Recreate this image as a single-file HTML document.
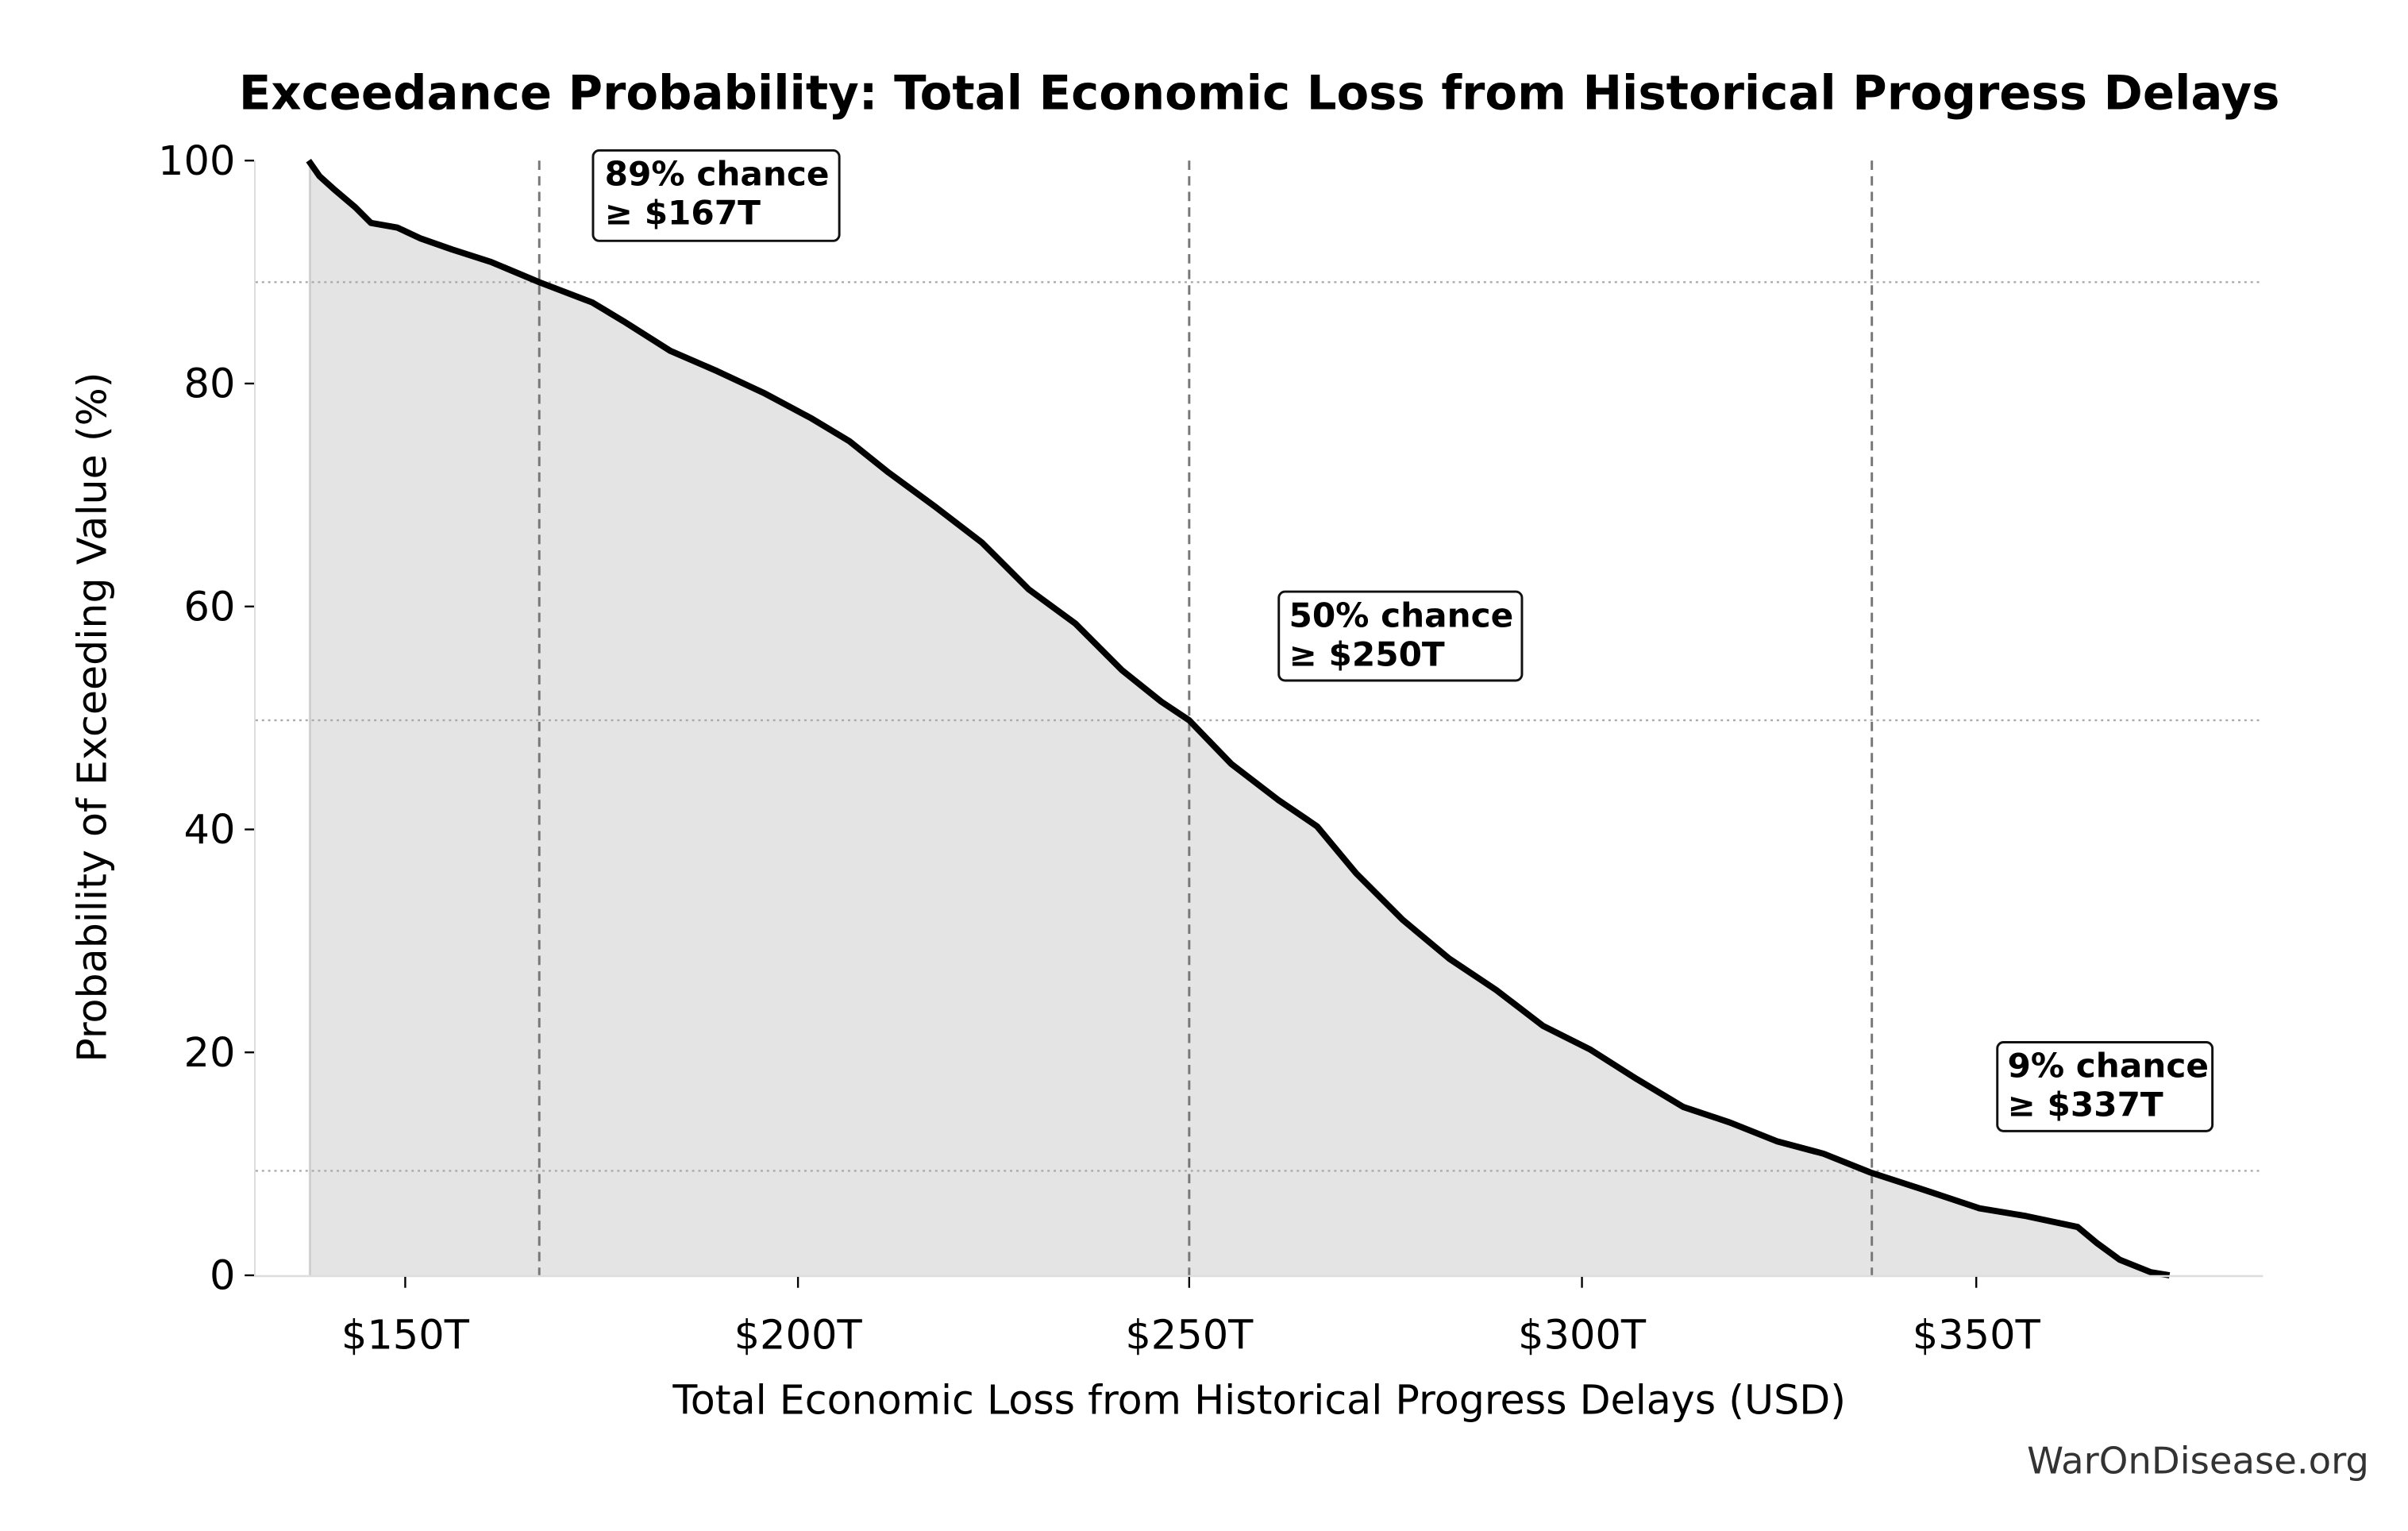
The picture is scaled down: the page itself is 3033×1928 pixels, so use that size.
<!DOCTYPE html>
<html><head><meta charset="utf-8"><style>
html,body{margin:0;padding:0;background:#fff}
svg{display:block}
text{font-family:"DejaVu Sans","Liberation Sans",sans-serif}
</style></head><body>
<svg width="3033" height="1928" viewBox="0 0 1545 982" preserveAspectRatio="none" xmlns="http://www.w3.org/2000/svg">
<rect width="1545" height="982" fill="#fff"/>
<text x="808" y="70" text-anchor="middle" font-size="30.2" font-weight="bold">Exceedance Probability: Total Economic Loss from Historical Progress Delays</text>
<path d="M198,103 L205,113 L215,122 L228,133 L238,143 L255,146 L270,153 L290,160 L315,168 L346,181 L380,194 L400,206 L430,225 L460,238 L490,252 L520,268 L545,283 L570,303 L600,325 L630,348 L660,378 L690,400 L720,430 L745,450 L763,462 L790,490 L820,513 L845,530 L870,560 L900,590 L930,615 L960,635 L990,658 L1020,673 L1050,692 L1080,710 L1110,720 L1140,732 L1170,740 L1200,752 L1240,765 L1270,775 L1300,780 L1333,787 L1345,797 L1360,808 L1380,816 L1392,818 L198,818 Z" fill="#e4e4e4"/>
<line x1="199" y1="103" x2="199" y2="818" stroke="#c8c8c8" stroke-width="1"/>
<g stroke="#aaa" stroke-width="1.2" stroke-dasharray="1.5,2.5">
<line x1="164" y1="181" x2="1452" y2="181"/>
<line x1="164" y1="462" x2="1452" y2="462"/>
<line x1="164" y1="751" x2="1452" y2="751"/>
</g>
<g stroke="#777" stroke-width="1.5" stroke-dasharray="6,4">
<line x1="346" y1="103" x2="346" y2="818"/>
<line x1="763" y1="103" x2="763" y2="818"/>
<line x1="1201" y1="103" x2="1201" y2="818"/>
</g>
<path d="M198,103 L205,113 L215,122 L228,133 L238,143 L255,146 L270,153 L290,160 L315,168 L346,181 L380,194 L400,206 L430,225 L460,238 L490,252 L520,268 L545,283 L570,303 L600,325 L630,348 L660,378 L690,400 L720,430 L745,450 L763,462 L790,490 L820,513 L845,530 L870,560 L900,590 L930,615 L960,635 L990,658 L1020,673 L1050,692 L1080,710 L1110,720 L1140,732 L1170,740 L1200,752 L1240,765 L1270,775 L1300,780 L1333,787 L1345,797 L1360,808 L1380,816 L1392,818" fill="none" stroke="#000" stroke-width="4" stroke-linejoin="round"/>
<line x1="163.5" y1="103" x2="163.5" y2="819" stroke="#ddd" stroke-width="1"/>
<line x1="163" y1="818.5" x2="1452" y2="818.5" stroke="#ddd" stroke-width="1.3"/>
<g stroke="#000" stroke-width="1.2">
<line x1="157" y1="103" x2="163" y2="103"/><line x1="157" y1="246" x2="163" y2="246"/><line x1="157" y1="389" x2="163" y2="389"/><line x1="157" y1="532" x2="163" y2="532"/><line x1="157" y1="675" x2="163" y2="675"/><line x1="157" y1="818" x2="163" y2="818"/>
<line x1="260" y1="819" x2="260" y2="826"/><line x1="512" y1="819" x2="512" y2="826"/><line x1="763" y1="819" x2="763" y2="826"/><line x1="1015" y1="819" x2="1015" y2="826"/><line x1="1268" y1="819" x2="1268" y2="826"/>
</g>
<g font-size="26" text-anchor="end">
<text x="151" y="112">100</text><text x="151" y="255">80</text><text x="151" y="398">60</text><text x="151" y="541">40</text><text x="151" y="684">20</text><text x="151" y="827">0</text>
</g>
<g font-size="26" text-anchor="middle">
<text x="260" y="865">$150T</text><text x="512" y="865">$200T</text><text x="763" y="865">$250T</text><text x="1015" y="865">$300T</text><text x="1268" y="865">$350T</text>
</g>
<text x="808" y="907" text-anchor="middle" font-size="25.8">Total Economic Loss from Historical Progress Delays (USD)</text>
<text transform="translate(68,460) rotate(-90)" text-anchor="middle" font-size="25.8">Probability of Exceeding Value (%)</text>
<text x="1520" y="945" text-anchor="end" font-size="23.7" fill="#333">WarOnDisease.org</text>
<g stroke="#111" stroke-width="1.5" fill="#fff">
<rect x="380.5" y="96.5" width="158" height="58" rx="4"/>
<rect x="820.5" y="379.5" width="156" height="57" rx="4"/>
<rect x="1281.5" y="668.5" width="138" height="57" rx="4"/>
</g>
<g font-size="21.5" font-weight="bold">
<text x="388" y="119">89% chance</text><text x="388" y="144">≥ $167T</text>
<text x="827" y="402">50% chance</text><text x="827" y="427">≥ $250T</text>
<text x="1288" y="691">9% chance</text><text x="1288" y="716">≥ $337T</text>
</g>
</svg>
</body></html>
